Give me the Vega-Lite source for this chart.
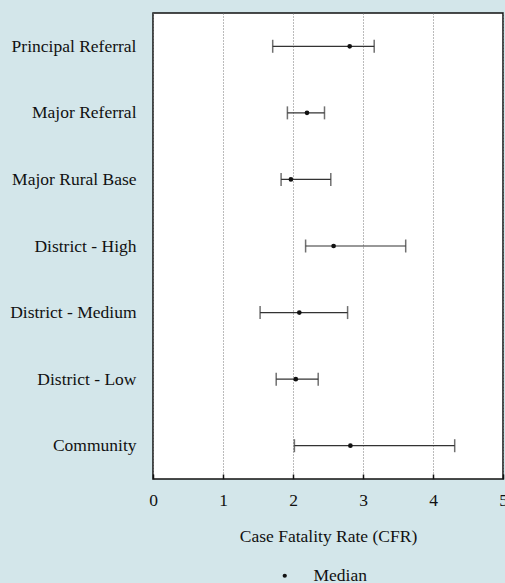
{
  "$schema": "https://vega.github.io/schema/vega-lite/v6.json",
  "autosize": {"type": "none"},
  "width": 350,
  "height": 466,
  "padding": {"left": 153, "top": 13, "right": 2, "bottom": 104},
  "background": "#d3e6ea",
  "config": {
    "font": "Liberation Serif",
    "view": {"stroke": "#111111", "strokeWidth": 1.5, "fill": "white"}
  },
  "data": {
    "values": [
      {"level": "Principal Referral", "low": 1.71, "median": 2.81, "high": 3.16},
      {"level": "Major Referral", "low": 1.92, "median": 2.2, "high": 2.45},
      {"level": "Major Rural Base", "low": 1.83, "median": 1.97, "high": 2.54},
      {"level": "District - High", "low": 2.18, "median": 2.58, "high": 3.61},
      {"level": "District - Medium", "low": 1.53, "median": 2.09, "high": 2.78},
      {"level": "District - Low", "low": 1.76, "median": 2.04, "high": 2.36},
      {"level": "Community", "low": 2.02, "median": 2.82, "high": 4.31}
    ]
  },
  "encoding": {
    "y": {
      "field": "level",
      "type": "nominal",
      "sort": null,
      "scale": {"type": "point", "padding": 0.5},
      "axis": {
        "title": null,
        "ticks": false,
        "domain": false,
        "labelFontSize": 17.5,
        "labelColor": "#111111",
        "labelPadding": 17,
        "labelLimit": 200
      }
    }
  },
  "layer": [
    {
      "mark": {"type": "rule", "color": "#333333", "strokeWidth": 1.2},
      "encoding": {
        "x": {
          "field": "low",
          "type": "quantitative",
          "scale": {"domain": [0, 5], "nice": false},
          "axis": {
            "title": "Case Fatality Rate (CFR)",
            "titleFont": "Liberation Serif",
            "titleFontSize": 17.5,
            "titleFontWeight": "normal",
            "titleColor": "#111111",
            "titlePadding": 19,
            "values": [0, 1, 2, 3, 4, 5],
            "format": "d",
            "labelFontSize": 17.5,
            "labelColor": "#111111",
            "labelPadding": 17,
            "labelFlush": false,
            "tickSize": -5,
            "tickColor": "#111111",
            "tickWidth": 1.5,
            "domain": false,
            "grid": true,
            "gridDash": [1, 2],
            "gridColor": "#777777",
            "gridWidth": 1
          }
        },
        "x2": {"field": "high"}
      }
    },
    {
      "mark": {"type": "tick", "color": "#333333", "thickness": 1.5, "size": 13, "orient": "vertical"},
      "encoding": {"x": {"field": "low", "type": "quantitative"}}
    },
    {
      "mark": {"type": "tick", "color": "#333333", "thickness": 1.5, "size": 13, "orient": "vertical"},
      "encoding": {"x": {"field": "high", "type": "quantitative"}}
    },
    {
      "mark": {"type": "point", "filled": true, "color": "#111111", "size": 22, "opacity": 1},
      "encoding": {
        "x": {"field": "median", "type": "quantitative"},
        "shape": {
          "datum": "Median",
          "type": "nominal",
          "scale": {"range": ["circle"]},
          "legend": {
            "title": null,
            "orient": "none",
            "legendX": 123,
            "legendY": 554,
            "labelFontSize": 17.5,
            "labelColor": "#111111",
            "labelOffset": 20,
            "symbolSize": 18,
            "symbolFillColor": "#111111",
            "symbolStrokeColor": "#111111",
            "symbolType": "circle"
          }
        }
      }
    }
  ]
}
